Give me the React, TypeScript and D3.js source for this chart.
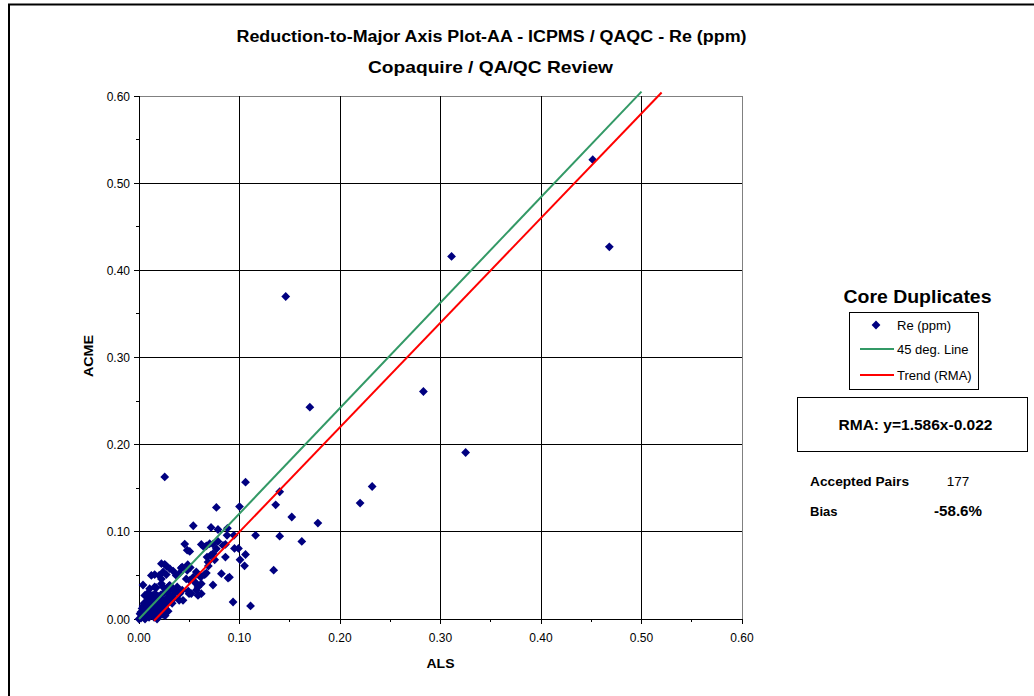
import React from "react";
import * as d3 from "d3";

const titleLines = ["Reduction-to-Major Axis Plot-AA - ICPMS / QAQC - Re (ppm)", "Copaquire / QA/QC Review"];
const xAxisTitle = "ALS";
const yAxisTitle = "ACME";
const axisTicks = [0, 0.1, 0.2, 0.3, 0.4, 0.5, 0.6];
const minorTicks = [0.05, 0.15, 0.25, 0.35, 0.45, 0.55];

// Re (ppm) duplicate pairs: ALS (x) vs ACME (y)
const alsValues = [
  0.4515, 0.468, 0.311, 0.146, 0.283, 0.170, 0.325, 0.232, 0.220, 0.178,
  0.162, 0.152, 0.140, 0.136, 0.140, 0.134, 0.111, 0.106, 0.100, 0.116,
  0.0256, 0.0936, 0.0945, 0.095, 0.099, 0.106, 0.1005, 0.105, 0.090, 0.077,
  0.054, 0.0717, 0.0786, 0.088, 0.0455, 0.0647, 0.067, 0.0736, 0.0786, 0.048,
  0.0505, 0.077, 0.086, 0.0677, 0.0713, 0.0736, 0.086, 0.069, 0.042, 0.0485,
  0.051, 0.057, 0.0614, 0.0654, 0.062, 0.0736, 0.082, 0.0886, 0.0223, 0.0256,
  0.0272, 0.0306, 0.034, 0.0123, 0.0156, 0.024, 0.0272, 0.037, 0.043, 0.048,
  0.004, 0.0173, 0.0223, 0.030, 0.032, 0.038, 0.043, 0.049, 0.0498, 0.040,
  0.054, 0.0604, 0.057, 0.062, 0.0703, 0.0836, 0.0876, 0.0753, 0.0687, 0.020,
  0.0223, 0.0405, 0.0505, 0.0555, 0.047, 0.067, 0.0587, 0.057, 0.052, 0.0587,
  0.062, 0.0405, 0.0438, 0.0106, 0.0156, 0.024, 0.0272, 0.0306, 0.034, 0.037,
  0.0057, 0.0106, 0.0173, 0.0223, 0.0272, 0.032,
  0.000, 0.002, 0.003, 0.005, 0.006, 0.004, 0.008, 0.009, 0.010, 0.007,
  0.012, 0.013, 0.011, 0.014, 0.015, 0.016, 0.017, 0.018, 0.019, 0.020,
  0.021, 0.022, 0.023, 0.024, 0.025, 0.026, 0.027, 0.028, 0.029, 0.030,
  0.005, 0.008, 0.003, 0.001, 0.006, 0.010, 0.012, 0.015, 0.019, 0.016,
  0.009, 0.013, 0.022, 0.025, 0.028, 0.031, 0.033, 0.035, 0.036, 0.020,
  0.018, 0.024, 0.014, 0.011, 0.004, 0.007, 0.002, 0.017, 0.021, 0.026,
  0.027,
];
const acmeValues = [
  0.527, 0.427, 0.416, 0.370, 0.261, 0.243, 0.191, 0.152, 0.133, 0.110,
  0.089, 0.117, 0.146, 0.131, 0.095, 0.056, 0.015, 0.157, 0.129, 0.096,
  0.163, 0.0195, 0.096, 0.081, 0.081, 0.074, 0.068, 0.061, 0.048, 0.128,
  0.107, 0.105, 0.1027, 0.104, 0.086, 0.0825, 0.084, 0.086, 0.089, 0.079,
  0.0775, 0.0806, 0.0855, 0.071, 0.073, 0.075, 0.071, 0.0607, 0.0585, 0.0623,
  0.059, 0.054, 0.048, 0.051, 0.0405, 0.039, 0.052, 0.047, 0.0635, 0.0627,
  0.0607, 0.0577, 0.055, 0.050, 0.051, 0.054, 0.051, 0.050, 0.0596, 0.0558,
  0.039, 0.036, 0.0405, 0.038, 0.0348, 0.0367, 0.033, 0.032, 0.029, 0.0214,
  0.048, 0.050, 0.0405, 0.0856, 0.0864, 0.0844, 0.096, 0.068, 0.0653, 0.050,
  0.046, 0.0527, 0.0443, 0.0424, 0.046, 0.0527, 0.0367, 0.033, 0.029, 0.027,
  0.029, 0.029, 0.0214, 0.0348, 0.0367, 0.0367, 0.0348, 0.0386, 0.0348, 0.033,
  0.027, 0.025, 0.025, 0.0234, 0.0214, 0.0234,
  0.000, 0.001, 0.004, 0.002, 0.006, 0.009, 0.003, 0.008, 0.012, 0.014,
  0.005, 0.010, 0.017, 0.015, 0.002, 0.008, 0.013, 0.019, 0.006, 0.011,
  0.016, 0.021, 0.009, 0.014, 0.019, 0.012, 0.017, 0.024, 0.009, 0.020,
  0.018, 0.021, 0.012, 0.006, 0.000, 0.002, 0.022, 0.024, 0.026, 0.029,
  0.030, 0.027, 0.028, 0.030, 0.031, 0.027, 0.018, 0.024, 0.030, 0.003,
  0.000, 0.005, 0.020, 0.008, 0.015, 0.010, 0.008, 0.004, 0.007, 0.004,
  0.008,
];

// Reference lines as drawn (start / end points)
const line45X = [0, 0.5];
const line45Y = [0, 0.605];
const trendX = [0.015, 0.52];
const trendY = [-0.002, 0.604];

const legendTitle = "Core Duplicates";
const legendItems = ["Re (ppm)", "45 deg. Line", "Trend (RMA)"];
const rmaText = "RMA: y=1.586x-0.022";
const statLabels = ["Accepted Pairs", "Bias"];
const statValues = ["177", "-58.6%"];

const FONT = "Arial, 'Liberation Sans', sans-serif";
const NAVY = "#000080";
const GREEN = "#339966";
const RED = "#FF0000";

export default function App() {
  const x = d3.scaleLinear().domain([0, 0.6]).range([139, 742]);
  const y = d3.scaleLinear().domain([0, 0.6]).range([619, 96]);
  const fmt = d3.format(".2f");
  const lineGen = d3.line<[number, number]>().x((d) => x(d[0])).y((d) => y(d[1]));
  const diamond = "M0,-4.4L4.4,0L0,4.4L-4.4,0Z";
  const points = alsValues.map((v, i) => [v, acmeValues[i]] as [number, number]);

  return (
    <svg
      width={1034}
      height={696}
      style={{ position: "absolute", left: 0, top: 0, display: "block", background: "#fff" }}
      fontFamily={FONT}
    >
      <rect x={0} y={0} width={1034} height={696} fill="#fff" />
      {/* outer frame */}
      <path d="M9,700V4.5H1040" fill="none" stroke="#000" strokeWidth={2} />

      {/* titles */}
      <text x={491.5} y={42} textAnchor="middle" fontSize={16} fontWeight="bold" textLength={510} lengthAdjust="spacingAndGlyphs">{titleLines[0]}</text>
      <text x={490.5} y={73} textAnchor="middle" fontSize={17} fontWeight="bold" textLength={245} lengthAdjust="spacingAndGlyphs">{titleLines[1]}</text>

      {/* gridlines */}
      <g shapeRendering="crispEdges">
        {axisTicks.slice(1).map((t) => (
          <line key={"h" + t} x1={x(0)} x2={x(0.6)} y1={y(t)} y2={y(t)} stroke={t === 0.6 ? "#808080" : "#000"} strokeWidth={1} />
        ))}
        {axisTicks.slice(1).map((t) => (
          <line key={"v" + t} x1={x(t)} x2={x(t)} y1={y(0)} y2={y(0.6)} stroke={t === 0.6 ? "#808080" : "#000"} strokeWidth={1} />
        ))}
        {/* axes */}
        <line x1={x(0)} x2={x(0.6)} y1={y(0)} y2={y(0)} stroke="#000" />
        <line x1={x(0)} x2={x(0)} y1={y(0)} y2={y(0.6)} stroke="#000" />
        {/* y ticks */}
        {axisTicks.map((t) => (
          <line key={"yt" + t} x1={x(0) - 5} x2={x(0)} y1={y(t)} y2={y(t)} stroke="#000" />
        ))}
        {minorTicks.map((t) => (
          <line key={"ym" + t} x1={x(0) - 3} x2={x(0)} y1={y(t)} y2={y(t)} stroke="#000" />
        ))}
        {/* x ticks */}
        {axisTicks.map((t) => (
          <line key={"xt" + t} x1={x(t)} x2={x(t)} y1={y(0)} y2={y(0) + 5} stroke="#000" />
        ))}
        {minorTicks.map((t) => (
          <line key={"xm" + t} x1={x(t)} x2={x(t)} y1={y(0)} y2={y(0) + 3} stroke="#000" />
        ))}
      </g>

      {/* tick labels */}
      {axisTicks.map((t) => (
        <text key={"yl" + t} x={x(0) - 9} y={y(t) + 4.5} textAnchor="end" fontSize={12}>{fmt(t)}</text>
      ))}
      {axisTicks.map((t) => (
        <text key={"xl" + t} x={x(t)} y={y(0) + 23} textAnchor="middle" fontSize={12}>{fmt(t)}</text>
      ))}

      {/* axis titles */}
      <text x={440.5} y={668} textAnchor="middle" fontSize={13.5} fontWeight="bold" textLength={28} lengthAdjust="spacingAndGlyphs">{xAxisTitle}</text>
      <text transform={`translate(92.5,356) rotate(-90)`} textAnchor="middle" fontSize={13.5} fontWeight="bold" textLength={42} lengthAdjust="spacingAndGlyphs">{yAxisTitle}</text>

      {/* points */}
      <g fill={NAVY}>
        {points.map((p, i) => (
          <path key={i} d={diamond} transform={`translate(${x(p[0])},${y(p[1])})`} />
        ))}
      </g>

      {/* lines */}
      <path d={lineGen(line45X.map((v, i) => [v, line45Y[i]]) as [number, number][]) || ""} stroke={GREEN} strokeWidth={2} fill="none" />
      <path d={lineGen(trendX.map((v, i) => [v, trendY[i]]) as [number, number][]) || ""} stroke={RED} strokeWidth={2} fill="none" />

      {/* legend */}
      <text x={917.5} y={303} textAnchor="middle" fontSize={19} fontWeight="bold" textLength={148} lengthAdjust="spacingAndGlyphs">{legendTitle}</text>
      <rect x={849.5} y={312.5} width={129} height={77} fill="#fff" stroke="#000" strokeWidth={1} />
      <path d={diamond} transform="translate(876,325)" fill={NAVY} />
      <line x1={860} x2={894} y1={349} y2={349} stroke={GREEN} strokeWidth={2} />
      <line x1={860} x2={894} y1={375} y2={375} stroke={RED} strokeWidth={2} />
      {legendItems.map((s, i) => (
        <text key={s} x={897} y={[329.5, 353.5, 379.5][i]} fontSize={13}>{s}</text>
      ))}

      {/* RMA box */}
      <rect x={797.5} y={397.5} width={230} height={54} fill="#fff" stroke="#000" strokeWidth={1} />
      <text x={915.5} y={430} textAnchor="middle" fontSize={14} fontWeight="bold" textLength={154} lengthAdjust="spacingAndGlyphs">{rmaText}</text>

      {/* stats */}
      {statLabels.map((s, i) => (
        <text key={s} x={810} y={485.5 + i * 30} fontSize={13} fontWeight="bold" textLength={i === 0 ? 99 : undefined} lengthAdjust="spacingAndGlyphs">{s}</text>
      ))}
      <text x={958} y={486} textAnchor="middle" fontSize={13.5}>{statValues[0]}</text>
      <text x={958} y={516} textAnchor="middle" fontSize={14} fontWeight="bold" textLength={48} lengthAdjust="spacingAndGlyphs">{statValues[1]}</text>
    </svg>
  );
}
